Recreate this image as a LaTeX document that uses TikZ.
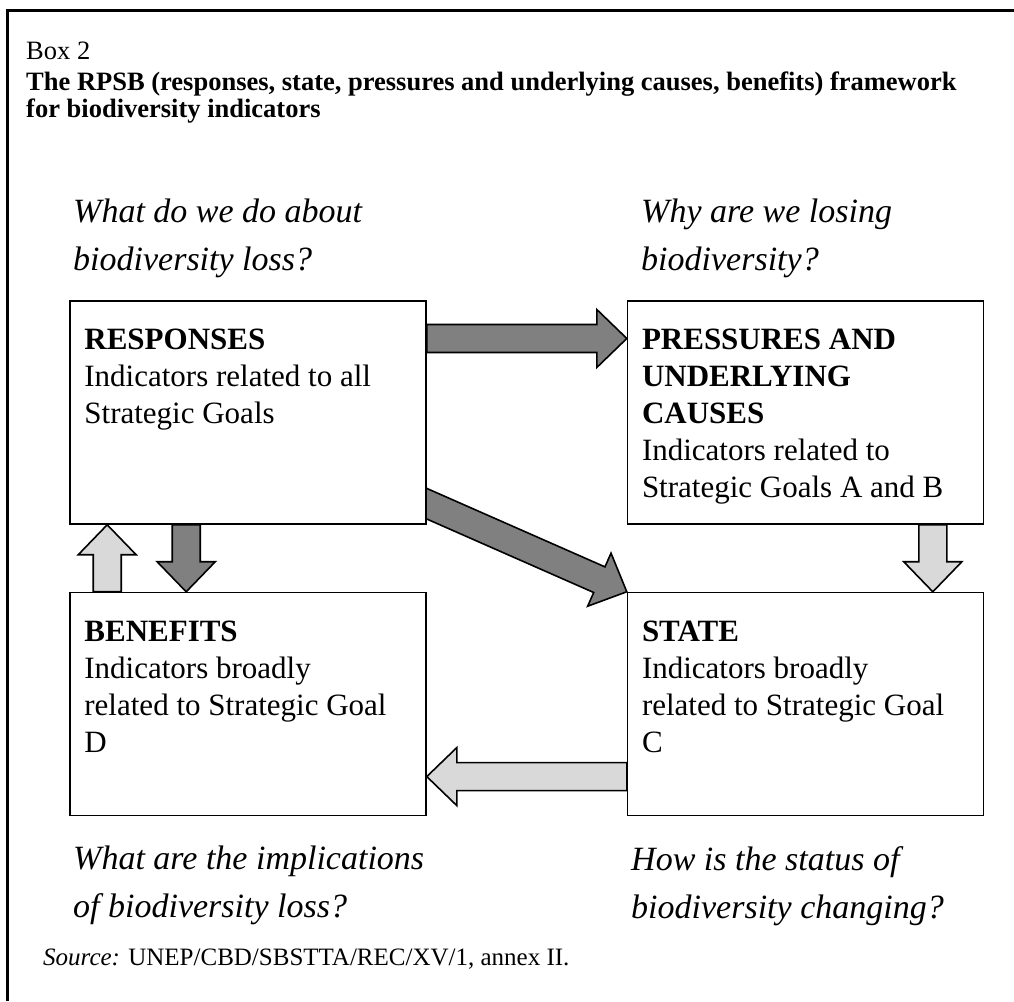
\documentclass[tikz,border=0pt]{standalone}
\usepackage{fontspec}
\setmainfont{Liberation Serif}
\usetikzlibrary{positioning,calc,backgrounds}

\colorlet{darkarrow}{gray}
\colorlet{lightarrow}{gray!30}

\tikzset{
  framebox/.style={draw, fill=white, line width=1.6pt, minimum width=356pt, minimum height=223pt, inner sep=0pt},
  boxtext/.style={anchor=north west, inner sep=0pt, align=left, font=\fontsize{31}{37}\selectfont},
  question/.style={anchor=north west, inner sep=0pt, align=left, font=\fontsize{34}{48}\selectfont\itshape},
  blockline/.style={draw=black, line width=1.6pt, line join=miter},
}

\newcommand{\shaftw}{14}
\newcommand{\headw}{29}
\newcommand{\headl}{30}
\newcommand{\blockarrow}[3]{%
  \draw[blockline, fill=#3] let \p1=(#1), \p2=(#2),
    \n1={atan2(\y2-\y1,\x2-\x1)}, \n2={veclen(\x2-\x1,\y2-\y1)} in
    [shift={(\p1)}, rotate=\n1]
    (0,-\shaftw) -- (\n2-\headl,-\shaftw) -- (\n2-\headl,-\headw) -- (\n2,0)
    -- (\n2-\headl,\headw) -- (\n2-\headl,\shaftw) -- (0,\shaftw) -- cycle;
}

\begin{document}
\begin{tikzpicture}[x=1pt, y=1pt]
\useasboundingbox (0,0) rectangle (1014,1001);

\draw[line width=2.4pt] (7.5,0) -- (7.5,990.5) -- (1014,990.5);

\node[anchor=north west, inner sep=0pt, align=left, font=\fontsize{26.5}{27}\selectfont] (head) at (26,959)
  {Box 2\\[4pt]\textbf{The RPSB (responses, state, pressures and underlying causes, benefits) framework}\\\textbf{for biodiversity indicators}};

\node[framebox] (resp) at (248,588.5) {};
\node[framebox, right=200pt of resp] (press) {};
\node[framebox, below=67pt of resp] (ben) {};
\node[framebox, right=200pt of ben] (state) {};

\node[boxtext, below right=29pt and 15pt of resp.north west] (resptext)
  {\textbf{RESPONSES}\\Indicators related to all\\Strategic Goals};
\node[boxtext, below right=29pt and 15pt of press.north west] (presstext)
  {\textbf{PRESSURES AND}\\\textbf{UNDERLYING}\\\textbf{CAUSES}\\Indicators related to\\Strategic Goals A and B};
\node[boxtext, below right=29pt and 15pt of ben.north west] (bentext)
  {\textbf{BENEFITS}\\Indicators broadly\\related to Strategic Goal\\D};
\node[boxtext, below right=29pt and 15pt of state.north west] (statetext)
  {\textbf{STATE}\\Indicators broadly\\related to Strategic Goal\\C};

\node[question] (qresp) at (73,802) {What do we do about\\biodiversity loss?};
\node[question] (qpress) at (641,802) {Why are we losing\\biodiversity?};
\node[question] (qben) at (73,155) {What are the implications\\of biodiversity loss?};
\node[question] (qstate) at (631,155) {How is the status of\\biodiversity changing?};

\begin{pgfonlayer}{background}
\blockarrow{$(resp.east)+(0,74)$}{$(press.west)+(0,74)$}{darkarrow}
\blockarrow{$(resp.south east)+(-18,29)$}{state.north west}{darkarrow}
\blockarrow{$(resp.south west)+(117,0)$}{$(ben.north west)+(117,0)$}{darkarrow}
\blockarrow{$(ben.north west)+(38,0)$}{$(resp.south west)+(38,0)$}{lightarrow}
\blockarrow{$(press.south west)+(306,0)$}{$(state.north west)+(306,0)$}{lightarrow}
\blockarrow{$(state.west)+(0,-72.5)$}{$(ben.east)+(0,-72.5)$}{lightarrow}
\end{pgfonlayer}

\node[anchor=base west, inner sep=0pt, font=\fontsize{25}{30}\selectfont] (src) at (43,36)
  {{\itshape Source:} UNEP/CBD/SBSTTA/REC/XV/1, annex II.};
\end{tikzpicture}
\end{document}
